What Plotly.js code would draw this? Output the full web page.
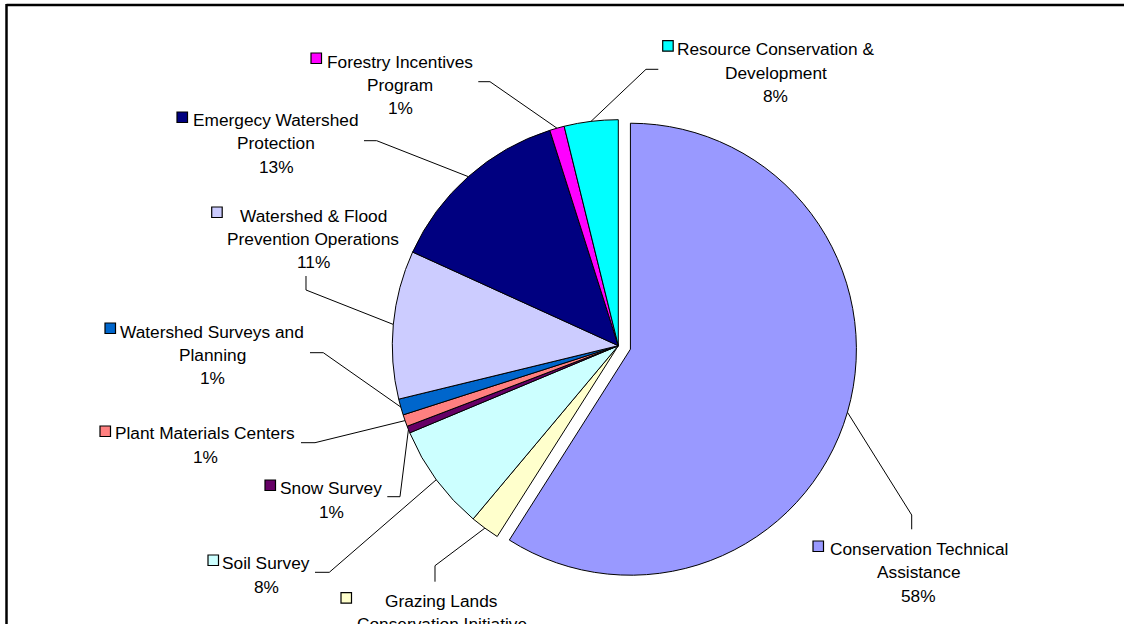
<!DOCTYPE html>
<html>
<head>
<meta charset="utf-8">
<script src="https://cdn.plot.ly/plotly-3.0.1.min.js"></script>
<style>html,body{margin:0;padding:0;background:#fff;}#chart{width:1124px;height:624px;}</style>
</head>
<body>
<div id="chart"></div>
<script>
// ---- data ----
const categories = ['Conservation Technical Assistance','Grazing Lands Conservation Initiative','Soil Survey','Snow Survey','Plant Materials Centers','Watershed Surveys and Planning','Watershed & Flood Prevention Operations','Emergecy Watershed Protection','Forestry Incentives Program','Resource Conservation & Development'];
const values = [59.0, 2.1, 7.6, 0.5, 0.85, 1.15, 10.6, 13.3, 1.05, 3.85];
const pctLabels = ['58%','2%','8%','1%','1%','1%','11%','13%','1%','8%'];
const labelLines = [
  ['Conservation Technical','Assistance'],
  ['Grazing Lands','Conservation Initiative'],
  ['Soil Survey'],
  ['Snow Survey'],
  ['Plant Materials Centers'],
  ['Watershed Surveys and','Planning'],
  ['Watershed & Flood','Prevention Operations'],
  ['Emergecy Watershed','Protection'],
  ['Forestry Incentives','Program'],
  ['Resource Conservation &','Development']
];
const colors = ['#9999FF','#FFFFCC','#CCFFFF','#660066','#FF8080','#0066CC','#CCCCFF','#000080','#FF00FF','#00FFFF'];
const pulls = [0.0558,0,0,0,0,0,0,0,0,0];

// ---- layout (pixels) ----
const W = 1124, H = 624;
const CX = 618.3, CY = 345.7, R = 226;
const maxPull = Math.max(...pulls);
const half = R * (1 + maxPull);
const LH = 23.3; // label line spacing
const labelPos = [
  {tx:918.5, ty:549,   mk:[813,541],   elbow:[[911.7,515],[911.7,529.3]]},
  {tx:441.7, ty:600.7, mk:[341,592.7], elbow:[[435,565.7],[435,581.7]]},
  {tx:266.2, ty:563.3, mk:[208,555],   elbow:[[329.3,572.3],[315,572.3]]},
  {tx:331,   ty:488.3, mk:[265,480],   elbow:[[400,496.7],[387.3,496.7]]},
  {tx:205,   ty:433.3, mk:[100,426],   elbow:[[315,442.7],[301,442.7]]},
  {tx:212,   ty:331.7, mk:[105,323],   elbow:[[323.3,352.7],[310,352.7]]},
  {tx:313,   ty:215.7, mk:[211.7,207], elbow:[[306,290],[306,276]]},
  {tx:276,   ty:120,   mk:[177,112],   elbow:[[376.7,140.7],[364,140.7]]},
  {tx:400,   ty:61.7,  mk:[311,53],    elbow:[[490,81.7],[478.3,81.7]]},
  {tx:775.8, ty:49.3,  mk:[662.7,40.7],elbow:[[646,69.3],[658.3,69.3]]}
];
const px = x => x / W;
const py = y => 1 - y / H;
const FONT = {family:'Liberation Sans, Arial, sans-serif', size:17.3, color:'#000'};

const trace = {
  type:'pie',
  labels: categories,
  values: values,
  sort:false,
  direction:'clockwise',
  rotation:0,
  pull: pulls,
  marker:{colors:colors, line:{color:'#000', width:1}},
  textinfo:'none',
  hoverinfo:'label+percent',
  showlegend:false,
  domain:{x:[px(CX-half), px(CX+half)], y:[py(CY+half), py(CY-half)]}
};

const total = values.reduce((a,b)=>a+b,0);
const annotations = [];
const shapes = [];
let cum = 0;
values.forEach((v,i)=>{
  const mid = 2*Math.PI*(cum + v/2)/total;
  cum += v;
  const off = R * pulls[i];
  const sx = CX + (R+off)*Math.sin(mid);
  const sy = CY - (R+off)*Math.cos(mid);
  const p = labelPos[i];
  const pts = [[sx,sy]].concat(p.elbow);
  const path = pts.map((q,k)=>(k?'L':'M')+px(q[0]).toFixed(5)+','+py(q[1]).toFixed(5)).join(' ');
  shapes.push({type:'path', xref:'paper', yref:'paper', path:path, line:{color:'#000', width:1}});
  shapes.push({type:'rect', xref:'paper', yref:'paper', x0:px(p.mk[0]), x1:px(p.mk[0]+10.5), y0:py(p.mk[1]), y1:py(p.mk[1]+10.5), fillcolor:colors[i], line:{color:'#000', width:1.2}});
  const lines = labelLines[i].concat([pctLabels[i]]);
  lines.forEach((t,k)=>{
    annotations.push({xref:'paper', yref:'paper', x:px(p.tx), y:py(p.ty + k*LH), text:t, showarrow:false, xanchor:'center', yanchor:'middle', font:FONT});
  });
});
// chart area border (left and top visible)
shapes.push({type:'line', xref:'paper', yref:'paper', x0:px(6.5), x1:px(1130), y0:py(5), y1:py(5), line:{color:'#000', width:2.5}});
shapes.push({type:'line', xref:'paper', yref:'paper', x0:px(6.5), x1:px(6.5), y0:py(4), y1:py(630), line:{color:'#000', width:2.5}});

const layout = {
  width:W, height:H,
  margin:{l:0,r:0,t:0,b:0},
  paper_bgcolor:'#fff', plot_bgcolor:'#fff',
  showlegend:false,
  annotations:annotations,
  shapes:shapes
};
Plotly.newPlot('chart', [trace], layout, {displayModeBar:false, staticPlot:true});
</script>
</body>
</html>
